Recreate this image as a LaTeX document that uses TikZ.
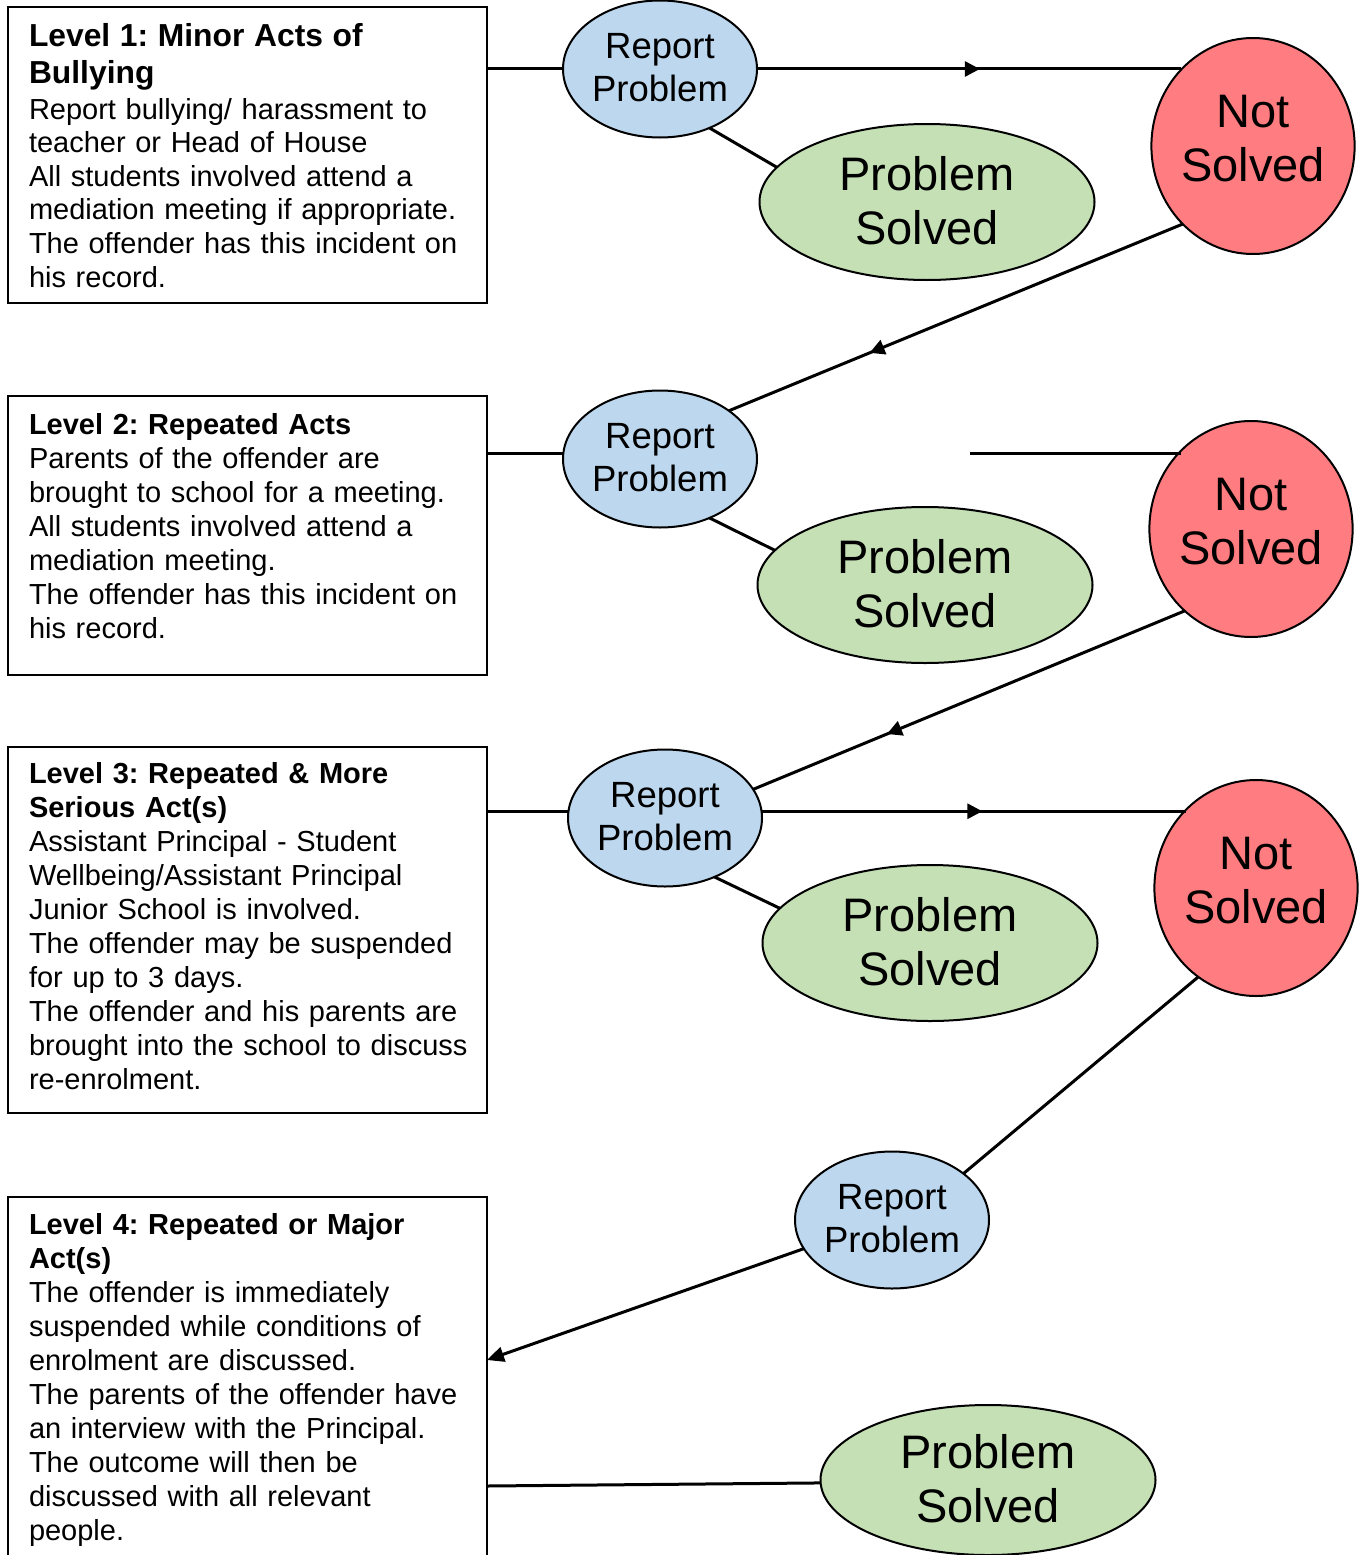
\documentclass[tikz,border=0pt]{standalone}
\usepackage{fontspec}
\setmainfont{Liberation Sans}
\frenchspacing
\usetikzlibrary{shapes.geometric, arrows.meta, decorations.markings, calc}
\definecolor{reportblue}{RGB}{189,215,238}
\definecolor{solvedgreen}{RGB}{197,224,180}
\definecolor{notred}{RGB}{255,124,128}
\newcommand{\headone}{\fontsize{31.8}{34}\selectfont\bfseries}
\tikzset{
    every node/.style={inner sep=0pt, outer sep=0pt},
    levelbox/.style={draw=black, line width=2pt, anchor=north west, minimum width=479pt},
    leveltext/.style={anchor=north west, align=left, text width=455pt, font=\fontsize{29}{34}\selectfont},
    reportcycle/.style={draw, line width=2pt, fill=reportblue, ellipse, minimum width=194pt, minimum height=137pt, align=center, text depth=4pt, font=\fontsize{36.5}{43}\selectfont},
    solvedcycle/.style={draw, line width=2pt, fill=solvedgreen, ellipse, minimum width=335pt, minimum height=156pt, align=center, text depth=4pt, font=\fontsize{47}{54}\selectfont},
    notcycle/.style={draw, line width=2pt, fill=notred, ellipse, minimum width=198pt, minimum height=216pt, align=center, text depth=16pt, font=\fontsize{47}{54}\selectfont},
    link/.style={line width=3pt},
    midarrow/.style={postaction={decorate}, decoration={markings, mark=at position #1 with {\arrow{Triangle[length=15pt,width=15pt]}}}},
    arrow/.style={-{Triangle[length=17pt,width=15pt]}, line width=3pt},
}

\begin{document}
\begin{tikzpicture}[x=1pt, y=-1pt]
\useasboundingbox (0,0) rectangle (1364,1555);
\clip (0,0) rectangle (1364,1555);

% level boxes on the left
\node[levelbox, minimum height=296pt] (level1) at (8,7) {};
\node[levelbox, minimum height=279pt] (level2) at (8,396) {};
\node[levelbox, minimum height=366pt] (level3) at (8,747) {};
\node[levelbox, minimum height=420pt] (level4) at (8,1197) {};

\node[leveltext, font=\fontsize{29}{33.6}\selectfont] (text1) at (29,23) {{\headone Level 1: Minor Acts of}\\[3.4pt]
  {\headone Bullying}\\[2.4pt]
  Report bullying/ harassment to\\teacher or Head of House\\All students involved attend a\\mediation meeting if appropriate.\\The offender has this incident on\\his record.};
\node[leveltext] (text2) at (29,413) {\textbf{Level 2: Repeated Acts}\\
  Parents of the offender are\\brought to school for a meeting.\\All students involved attend a\\mediation meeting.\\The offender has this incident on\\his record.};
\node[leveltext] (text3) at (29,762) {\textbf{Level 3: Repeated \& More}\\\textbf{Serious Act(s)}\\
  Assistant Principal - Student\\Wellbeing/Assistant Principal\\Junior School is involved.\\The offender may be suspended\\for up to 3 days.\\The offender and his parents are\\brought into the school to discuss\\re-enrolment.};
\node[leveltext] (text4) at (29,1213) {\textbf{Level 4: Repeated or Major}\\\textbf{Act(s)}\\
  The offender is immediately\\suspended while conditions of\\enrolment are discussed.\\The parents of the offender have\\an interview with the Principal.\\The outcome will then be\\discussed with all relevant\\people.};

% report / solved / not solved
\node[reportcycle] (report1) at (660,69) {Report\\Problem};
\node[solvedcycle] (solved1) at (927,202) {Problem\\Solved};
\node[notcycle] (notsolved1) at (1253,146) {Not\\Solved};

\node[reportcycle] (report2) at (660,459) {Report\\Problem};
\node[solvedcycle] (solved2) at (925,585) {Problem\\Solved};
\node[notcycle] (notsolved2) at (1251,529) {Not\\Solved};

\node[reportcycle] (report3) at (665,818) {Report\\Problem};
\node[solvedcycle] (solved3) at (930,943) {Problem\\Solved};
\node[notcycle] (notsolved3) at (1256,888) {Not\\Solved};

\node[reportcycle] (report4) at (892,1220) {Report\\Problem};
\node[solvedcycle, minimum height=150pt] (solved4) at (988,1480) {Problem\\Solved};

% connectors
\draw[link] (level1.north east |- report1.west) -- (report1.west);
\draw[link, midarrow=0.525] (report1.east) -- (report1.east -| notsolved1.133);
\draw[link] (report1.-50) -- (solved1.167);
\draw[link, midarrow=0.69] (notsolved1.228) -- (report2.35);

\draw[link] (level2.north east |- report2.177) -- (report2.177);
\draw[link] (report2.-50) -- (solved2.167);
\coordinate (gap2) at (970,453);
\draw[link] (gap2) -- (gap2 -| notsolved2.132);
\draw[link, midarrow=0.69] (notsolved2.231) -- (report3.18);

\draw[link] (level3.north east |- report3.176) -- (report3.176);
\draw[link, midarrow=0.52] (report3.176 -| report3.east) -- (report3.176 -| notsolved3.132);
\draw[link] (report3.-50) -- (solved3.167);
\draw[link] (notsolved3.237) -- (report4.33);

\coordinate (hit4) at (487,1360);
\draw[arrow] (report4.198) -- (hit4);
\coordinate (out4) at (487,1486);
\draw[link] (out4) -- (solved4.181);

\end{tikzpicture}
\end{document}
